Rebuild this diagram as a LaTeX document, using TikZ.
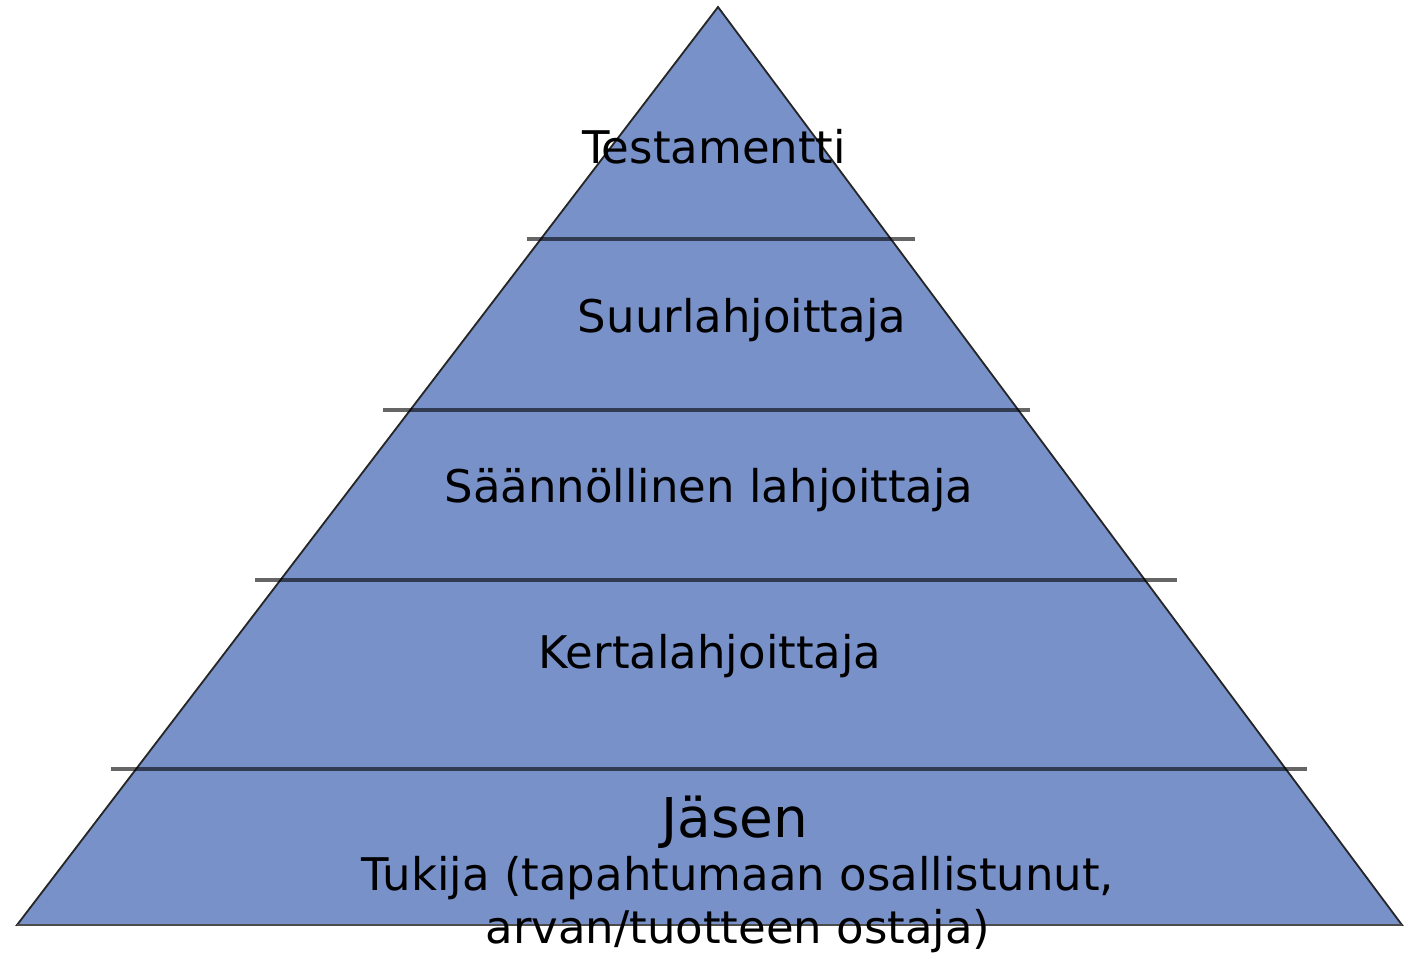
\documentclass[tikz,border=0pt]{standalone}
\usepackage{fontspec}
\setmainfont{DejaVu Sans}
\definecolor{pyramidblue}{RGB}{120,145,200}
\tikzset{
  tier/.style={font=\fontsize{32}{38}\selectfont, anchor=base, inner sep=0pt},
  tierline/.style={draw=black, draw opacity=0.6, line width=2.8pt}
}
\begin{document}
\begin{tikzpicture}[x=0.025cm,y=-0.025cm]
\useasboundingbox (0,0) rectangle (1404,954);
\filldraw[fill=pyramidblue,draw=black!85,line width=1.3pt] (718,7)--(1402,925)--(17,925)--cycle;
\draw[black!70,line width=1.6pt] (17,925)--(1402,925);
\draw[tierline] (527,239)--(915,239);
\draw[tierline] (383,410)--(1030,410);
\draw[tierline] (255,580)--(1177,580);
\draw[tierline] (111,769)--(1307,769);
\node[tier] (testamentti) at (714,163) {Testamentti};
\node[tier] (suur) at (742,332) {Suurlahjoittaja};
\node[tier] (saannollinen) at (709,502) {Säännöllinen lahjoittaja};
\node[tier] (kerta) at (710,668) {Kertalahjoittaja};
\node[tier,font=\fontsize{39}{46}\selectfont] (jasen) at (735,837) {Jäsen};
\node[tier] (tukija) at (738,890) {Tukija (tapahtumaan osallistunut,};
\node[tier] (ostaja) at (738,943) {arvan/tuotteen ostaja)};

\end{tikzpicture}
\end{document}
